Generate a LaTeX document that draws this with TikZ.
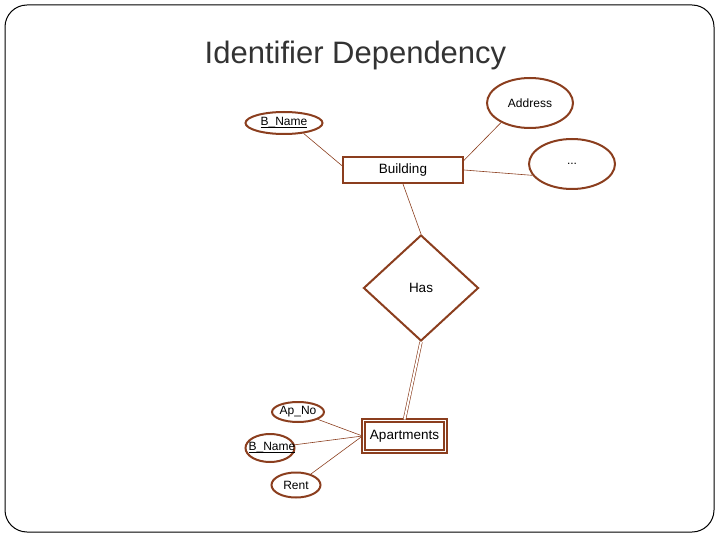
\documentclass[tikz,border=0pt]{standalone}
\usepackage{fontspec}
\setmainfont{Liberation Sans}
\usetikzlibrary{shapes.geometric}
\definecolor{erbrown}{RGB}{139,62,30}
\newcommand{\keyname}[1]{\setbox0\hbox{#1}\rlap{\rule[-2.5pt]{\wd0}{1.1pt}}\box0}

\begin{document}
\begin{tikzpicture}[x=1pt, y=-1pt,
	attrtext/.style={font=\fontsize{12}{14}\selectfont},
	entity/.style={draw=erbrown, line width=2pt, rectangle, inner sep=0pt, font=\fontsize{13.5}{16}\selectfont},
	attr/.style={draw=erbrown, line width=2pt, ellipse, inner sep=0pt, attrtext},
	rel/.style={draw=erbrown, line width=2pt, diamond, inner sep=0pt, font=\fontsize{13.5}{16}\selectfont},
	link/.style={draw=erbrown, line width=0.6pt}]
			\useasboundingbox (0,0) rectangle (720,540);
			\draw[line width=1pt, rounded corners=22pt] (5,5) rectangle (714,532);
			\node[font=\fontsize{31}{36}\selectfont, text=black!80] (title) at (355.5,55) {Identifier Dependency};
			% entities and relationship
			\node[entity, minimum width=120pt, minimum height=26pt] (building) at (403,170) {Building};
			\node[rel, minimum width=115pt, minimum height=106pt] (has) at (421,288) {Has};
			\node[entity, double, double distance=1.5pt, line width=2pt,
				minimum width=82pt, minimum height=31pt] (apartments) at (404.5,436) {Apartments};
			% attributes
			\node[attr, minimum width=77pt, minimum height=22pt] (bnameA) at (284,123) {\keyname{B\_Name}};
			\node[attr, minimum width=86pt, minimum height=50pt] (address) at (530,103) {Address};
			\node[attr, minimum width=86pt, minimum height=50pt] (more) at (572,164) {...};
			\node[attr, minimum width=50pt, minimum height=20pt] (apno) at (298,412) {Ap\_No};
			\node[attr, minimum width=49pt, minimum height=28pt,
				label={[attrtext, xshift=2pt]center:\keyname{B\_Name}}] (bnameB) at (270,448) {};
			\node[attr, minimum width=49pt, minimum height=25pt] (rent) at (296,485) {Rent};
			% connectors
			\draw[link] (bnameA.-28) -- (building.176);
			\draw[link] (address.214) -- (building.9);
			\draw[link] (more.196) -- (building.east);
			\draw[link] (building.south) -- (has.north);
			\draw[link, double, double distance=2pt] (has.south) -- (apartments.north);
			\draw[link] (apno) -- (apartments.west);
			\draw[link] (bnameB) -- (apartments.west);
			\draw[link] (rent) -- (apartments.west);
\end{tikzpicture}
\end{document}
